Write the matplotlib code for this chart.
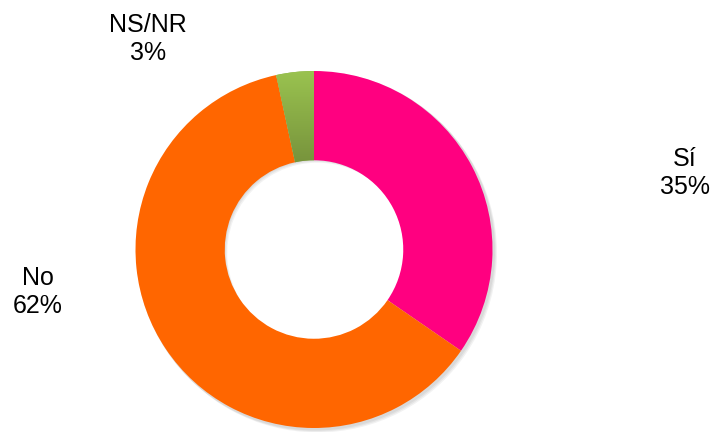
import matplotlib.pyplot as plt
import numpy as np
from matplotlib.colors import LinearSegmentedColormap

plt.rcParams['font.family'] = ['Liberation Sans', 'DejaVu Sans']

labels = ['Sí', 'No', 'NS/NR']
values = [34.6, 62.0, 3.4]
colors = ['#FF0080', '#FF6600', '#8AAE46']
label_pos = [(685, 173), (38, 292), (148, 39)]  # pixel positions (top-left origin)

W, H = 716, 432
cx, cy, R = 314, H - 249.5, 178.5

fig = plt.figure(figsize=(W / 100, H / 100), dpi=100)
ax = fig.add_axes([0, 0, 1, 1])
ax.set_xlim(0, W)
ax.set_ylim(0, H)
ax.set_aspect('equal')
ax.axis('off')

# soft shadow
for i, a in enumerate([0.05, 0.05, 0.05]):
    ax.pie(values, radius=R + 1, center=(cx + 1.5 + i, cy - 1.5 - i), startangle=90,
           counterclock=False, colors=['#000000'] * 3,
           wedgeprops=dict(width=R * 0.5, alpha=a, linewidth=0))

wedges, _ = ax.pie(values, radius=R, center=(cx, cy), startangle=90, counterclock=False,
                   colors=colors, wedgeprops=dict(width=R * 0.5, linewidth=0))

# vertical gradient on the small green slice
g = wedges[2]
grad = LinearSegmentedColormap.from_list('g', ['#77933C', '#9BC450'])
img = ax.imshow(np.linspace(0, 1, 256).reshape(-1, 1), cmap=grad, origin='lower',
                extent=[cx - 60, cx + 5, cy + 85, cy + R + 2], aspect='auto', zorder=3)
img.set_clip_path(g)
ax.set_xlim(0, W)
ax.set_ylim(0, H)

for lab, v, (x, y) in zip(labels, values, label_pos):
    ax.text(x, H - y, f'{lab}\n{round(v)}%', ha='center', va='center', fontsize=18,
            linespacing=1.2, color='#000000')

fig.savefig('out.png', dpi=100)
